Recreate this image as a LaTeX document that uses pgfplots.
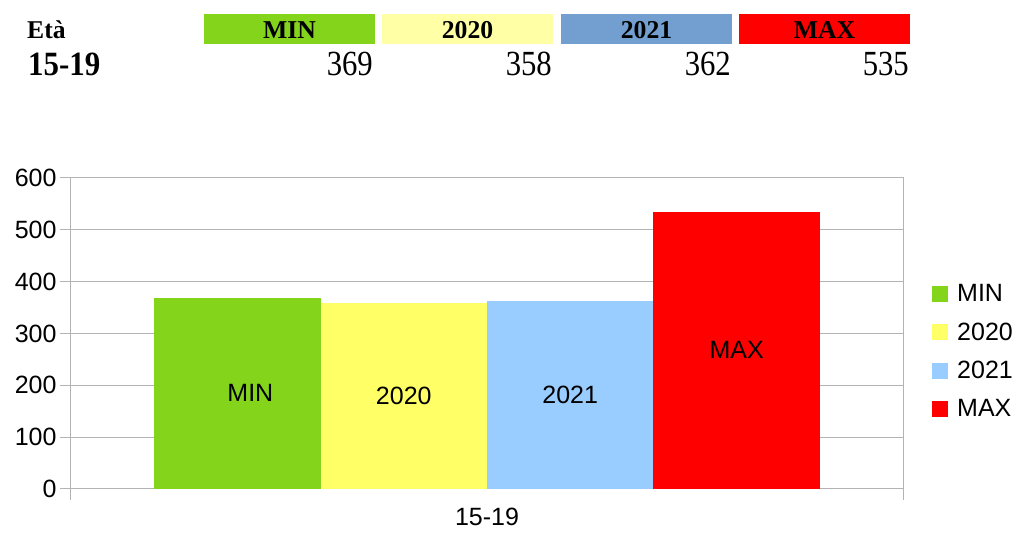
\documentclass[border=0pt]{standalone}
\usepackage{fontspec}
\setmainfont{Liberation Serif}
\newfontfamily\lsans{Liberation Sans}
\usepackage{graphicx}
\usepackage{pgfplots}
\pgfplotsset{compat=1.18}
\definecolor{cmin}{HTML}{83D41B}
\definecolor{c2020}{HTML}{FFFF66}
\definecolor{c2021}{HTML}{99CCFF}
\definecolor{cmax}{HTML}{FF0000}
\definecolor{h2020}{HTML}{FFFFA6}
\definecolor{h2021}{HTML}{729FCF}
\definecolor{gridc}{HTML}{B3B3B3}
\begin{document}
\begin{tikzpicture}[x=1pt,y=1pt]
\useasboundingbox (-71,-45) rectangle (945,489);
% header table
\fill[cmin] (133,475) rectangle (304,445);
\fill[h2020] (311,475) rectangle (482,445);
\fill[h2021] (490,475) rectangle (661,445);
\fill[cmax] (668,475) rectangle (839,445);
\begin{scope}[every node/.style={inner sep=0pt}]
\node[anchor=base west, font=\bfseries\fontsize{25.6}{30}\selectfont] at (-44,450) {Età};
\node[anchor=base, font=\bfseries\fontsize{25.7}{30}\selectfont] at (218.5,450) {MIN};
\node[anchor=base, font=\bfseries\fontsize{25.7}{30}\selectfont] at (396.5,450) {2020};
\node[anchor=base, font=\bfseries\fontsize{25.7}{30}\selectfont] at (575.5,450) {2021};
\node[anchor=base, font=\bfseries\fontsize{25.7}{30}\selectfont] at (753.5,450) {MAX};
\node[anchor=base west, font=\bfseries\fontsize{30.9}{36}\selectfont] at (-43,413) {\scalebox{1}[1.1]{15-19}};
\node[anchor=base east, font=\fontsize{30.7}{36}\selectfont] at (302,413) {\scalebox{1}[1.15]{369}};
\node[anchor=base east, font=\fontsize{30.7}{36}\selectfont] at (481,413) {\scalebox{1}[1.15]{358}};
\node[anchor=base east, font=\fontsize{30.7}{36}\selectfont] at (660,413) {\scalebox{1}[1.15]{362}};
\node[anchor=base east, font=\fontsize{30.7}{36}\selectfont] at (838,413) {\scalebox{1}[1.15]{535}};
\end{scope}
\begin{axis}[
  at={(0,0)}, anchor=south west,
  scale only axis, width=832pt, height=311pt,
  xmin=-0.5, xmax=0.5, ymin=0, ymax=600,
  ytick={0,100,...,600},
  xtick={0}, xticklabels={15-19},
  xtick style={draw=none},
  extra x ticks={-0.5,0.5}, extra x tick labels={},
  extra x tick style={xtick style={draw=gridc, line width=1pt}, major tick length=11pt, tick align=outside, grid=none},
  xtick pos=bottom,
  ytick pos=left, ytick align=outside, major tick length=11pt,
  ytick style={draw=gridc, line width=1pt},
  ymajorgrids, grid style={gridc, line width=1pt},
  axis line style={gridc, line width=1pt},
  tick label style={font=\lsans\fontsize{25}{30}\selectfont},
  /pgf/number format/assume math mode=true,
  xticklabel style={yshift=-8pt, inner sep=0pt},
  ybar=0pt, bar width=0.2,
  legend style={draw=none, fill=none, at={(1,0.442)}, anchor=west, xshift=29pt, inner sep=0pt,
    font=\lsans\fontsize{25}{30}\selectfont, nodes={inner sep=0pt}, row sep=19.4pt,
    /tikz/every odd column/.append style={column sep=9pt}},
  legend cell align=left,
  legend image code/.code={\fill[#1] (0pt,-8pt) rectangle (16pt,8pt);},
]
\addplot[fill=cmin, draw=none] coordinates {(0,369)};
\addplot[fill=c2020, draw=none] coordinates {(0,358)};
\addplot[fill=c2021, draw=none] coordinates {(0,362)};
\addplot[fill=cmax, draw=none] coordinates {(0,535)};
\legend{MIN,2020,2021,MAX}
\begin{scope}[every node/.style={font=\lsans\fontsize{25}{30}\selectfont, inner sep=0pt}]
\node at (axis cs:-0.2844,184.5) {MIN};
\node at (axis cs:-0.1,179) {2020};
\node at (axis cs:0.1,181) {2021};
\node at (axis cs:0.3,267.5) {MAX};
\end{scope}
\end{axis}
\end{tikzpicture}
\end{document}
